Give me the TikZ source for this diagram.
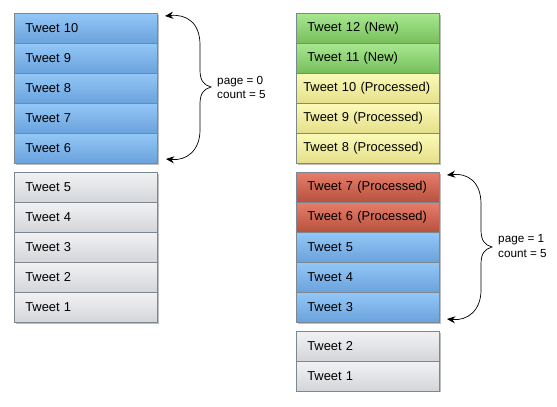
\documentclass[tikz,border=0pt]{standalone}
\usepackage{fontspec}
\setmainfont{Liberation Sans}
\usetikzlibrary{positioning, arrows.meta}

\definecolor{bluetop}{HTML}{93C7F7}
\definecolor{bluebot}{HTML}{6AA2DC}
\definecolor{graytop}{HTML}{F2F2F4}
\definecolor{graybot}{HTML}{D3D5D9}
\definecolor{greentop}{HTML}{A8E890}
\definecolor{greenbot}{HTML}{76BE5A}
\definecolor{yellowtop}{HTML}{FBFBB8}
\definecolor{yellowbot}{HTML}{E5DF8A}
\definecolor{redtop}{HTML}{E57E6A}
\definecolor{redbot}{HTML}{B9503F}
\definecolor{edge}{HTML}{7D8790}

\tikzset{
  row/.style={draw=edge, line width=0.5pt, anchor=north west, inner sep=0pt,
    text width=4.29cm, align=left, minimum height=0.9cm,
    execute at begin node={\hspace*{#1}},
    font=\fontsize{11}{13}\selectfont},
  row/.default=0.33cm,
  bluerow/.style={row, top color=bluetop, bottom color=bluebot},
  grayrow/.style={row, top color=graytop, bottom color=graybot},
  greenrow/.style={row, top color=greentop, bottom color=greenbot},
  yellowrow/.style={row=0.21cm, top color=yellowtop, bottom color=yellowbot},
  redrow/.style={row, top color=redtop, bottom color=redbot},
  groupshadow/.style={fill=black, opacity=0.25},
  brace/.style={line width=0.6pt, {Stealth[length=7pt,width=6pt]}-{Stealth[length=7pt,width=6pt]}},
  note/.style={anchor=west, align=left, inner sep=0pt, font=\fontsize{10}{12}\selectfont}
}

\begin{document}
\begin{tikzpicture}[x=0.03cm, y=-0.03cm]
\useasboundingbox (0,0) rectangle (557,406);

% shadows behind the groups
\fill[groupshadow] (15.5,15) rectangle (158.5,165);
\fill[groupshadow] (15.5,174) rectangle (158.5,324);
\fill[groupshadow] (297.5,15) rectangle (440.5,165);
\fill[groupshadow] (297.5,174) rectangle (440.5,324);
\fill[groupshadow] (297.5,333) rectangle (440.5,392);

% left column
\node[bluerow] (t10) at (14,13) {Tweet 10};
\node[bluerow] (t9) at (14,43) {Tweet 9};
\node[bluerow] (t8) at (14,73) {Tweet 8};
\node[bluerow] (t7) at (14,103) {Tweet 7};
\node[bluerow] (t6) at (14,133) {Tweet 6};

\node[grayrow] (t5) at (14,172) {Tweet 5};
\node[grayrow] (t4) at (14,202) {Tweet 4};
\node[grayrow] (t3) at (14,232) {Tweet 3};
\node[grayrow] (t2) at (14,262) {Tweet 2};
\node[grayrow] (t1) at (14,292) {Tweet 1};

% right column
\node[greenrow] (n12) at (296,13) {Tweet 12 (New)};
\node[greenrow] (n11) at (296,43) {Tweet 11 (New)};
\node[yellowrow] (p10) at (296,73) {Tweet 10 (Processed)};
\node[yellowrow] (p9) at (296,103) {Tweet 9 (Processed)};
\node[yellowrow] (p8) at (296,133) {Tweet 8 (Processed)};

\node[redrow] (p7) at (296,172) {Tweet 7 (Processed)};
\node[redrow] (p6) at (296,202) {Tweet 6 (Processed)};
\node[bluerow] (b5) at (296,232) {Tweet 5};
\node[bluerow] (b4) at (296,262) {Tweet 4};
\node[bluerow] (b3) at (296,292) {Tweet 3};

\node[grayrow] (g2) at (296,331) {Tweet 2};
\node[grayrow] (g1) at (296,361) {Tweet 1};

% page 0
\coordinate (top0) at (165,16);
\coordinate (mid0) at (211,87);
\coordinate (bot0) at (166,159);
\draw[brace] (top0) .. controls (186,14) and (200,22) .. (200,45) -- (200,70)
  .. controls (200,81) and (204,85) .. (mid0)
  .. controls (204,89) and (200,93) .. (200,104) -- (200,130)
  .. controls (200,151) and (186,161) .. (bot0);
\node[note] (page0) at (217,87) {page = 0\\count = 5};

% page 1
\coordinate (top1) at (447,175);
\coordinate (mid1) at (492,247);
\coordinate (bot1) at (447,319);
\draw[brace] (top1) .. controls (467,173) and (481,181) .. (481,204) -- (481,230)
  .. controls (481,241) and (485,245) .. (mid1)
  .. controls (485,249) and (481,253) .. (481,264) -- (481,290)
  .. controls (481,311) and (467,321) .. (bot1);
\node[note] (page1) at (498,246) {page = 1\\count = 5};
\end{tikzpicture}
\end{document}
